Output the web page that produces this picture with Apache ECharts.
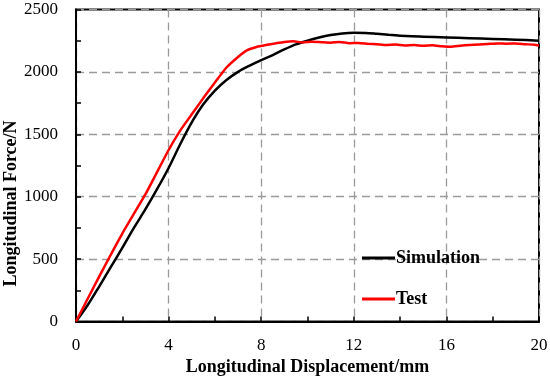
<!DOCTYPE html>
<html>
<head>
<meta charset="utf-8">
<script src="https://cdn.jsdelivr.net/npm/echarts@6/dist/echarts.min.js"></script>
<style>html,body{margin:0;padding:0;background:#fff;}#c{width:550px;height:380px;}</style>
</head>
<body>
<div id="c"></div>
<script>
// Simulation curve
const dispSim = [0,0.5,1,1.5,2,2.5,3,3.5,4,4.5,5,5.5,6,6.5,7,7.5,8,8.5,9,9.5,10,10.5,11,11.5,12,12.5,13,13.5,14,14.5,15,16,17,18,19,20];
const forceSim = [0,130,280,435,590,750,900,1060,1230,1420,1595,1740,1850,1935,2000,2050,2095,2135,2180,2220,2250,2275,2295,2308,2313,2312,2305,2297,2290,2285,2282,2276,2270,2264,2258,2250];
// Test curve
const dispTest = [0,1,2,3,4,4.5,5,5.5,6,6.5,7,7.4,7.8,8.2,8.6,9,9.4,9.8,10.2,10.6,11,11.4,11.8,12.2,12.6,13,13.4,13.8,14.2,14.6,15,15.4,15.8,16.2,16.6,17,17.4,17.8,18.2,18.6,19,19.4,19.8,20];
const forceTest = [0,360,705,1020,1374,1530,1660,1790,1915,2035,2120,2175,2200,2215,2228,2240,2245,2236,2242,2238,2234,2240,2230,2232,2226,2222,2216,2219,2212,2215,2210,2213,2206,2202,2210,2216,2220,2224,2228,2226,2228,2222,2218,2212];
const xTicks = [0,4,8,12,16,20];
const yTicks = [0,500,1000,1500,2000,2500];
const seriesNames = ['Simulation','Test'];

const pair = (xs, ys) => xs.map((x, i) => [x, ys[i]]);
const font = '"Liberation Serif", "DejaVu Serif", serif';

const chart = echarts.init(document.getElementById('c'), null, {renderer: 'canvas'});
chart.setOption({
  animation: false,
  backgroundColor: '#fff',
  grid: {left: 76, right: 11, top: 9.5, bottom: 58.5, outerBoundsMode: 'none', containLabel: false,
         show: true, borderColor: '#000', borderWidth: 2, backgroundColor: 'transparent'},
  legend: {
    orient: 'vertical', left: 357, top: 244, itemGap: 23, itemWidth: 33, itemHeight: 3,
    icon: 'rect',
    textStyle: {fontFamily: font, fontWeight: 'bold', fontSize: 18, color: '#000', padding: [0,0,0,-4]},
    data: seriesNames
  },
  xAxis: {
    type: 'value', min: xTicks[0], max: xTicks[xTicks.length-1], interval: 4,
    name: 'Longitudinal Displacement/mm', nameLocation: 'middle', nameGap: 37, nameMoveOverlap: false,
    nameTextStyle: {fontFamily: font, fontWeight: 'bold', fontSize: 18, color: '#000'},
    axisLine: {lineStyle: {color: '#000', width: 2}},
    axisTick: {show: true, inside: true, length: 5, lineStyle: {color: '#000', width: 1.5}},
    minorTick: {show: true, splitNumber: 2, length: 5, lineStyle: {color: '#000', width: 1.5}},
    axisLabel: {fontFamily: font, fontSize: 17, color: '#000', margin: 16, formatter: v => String(v)},
    splitLine: {show: true, lineStyle: {color: '#9a9a9a', width: 1.3, type: [8,5]}}
  },
  yAxis: {
    type: 'value', min: yTicks[0], max: yTicks[yTicks.length-1], interval: 500,
    name: 'Longitudinal Force/N', nameLocation: 'middle', nameGap: 56, nameMoveOverlap: false,
    nameTextStyle: {fontFamily: font, fontWeight: 'bold', fontSize: 18, color: '#000', padding: [0, 76, 0, 0]},
    axisLine: {lineStyle: {color: '#000', width: 2}},
    axisTick: {show: true, inside: true, length: 5, lineStyle: {color: '#000', width: 1.5}},
    minorTick: {show: true, splitNumber: 2, length: 5, lineStyle: {color: '#000', width: 1.5}},
    axisLabel: {fontFamily: font, fontSize: 17, color: '#000', margin: 18, formatter: v => String(v)},
    splitLine: {show: true, lineStyle: {color: '#9a9a9a', width: 1.3, type: [8,5]}}
  },
  series: [
    {name: seriesNames[0], type: 'line', data: pair(dispSim, forceSim), showSymbol: false, smooth: 0.3,
     lineStyle: {color: '#000', width: 2.5}, itemStyle: {color: '#000'}, z: 3},
    {name: seriesNames[1], type: 'line', data: pair(dispTest, forceTest), showSymbol: false, smooth: 0.15,
     lineStyle: {color: '#ff0000', width: 2.5}, itemStyle: {color: '#ff0000'}, z: 4}
  ]
});
</script>
</body>
</html>
